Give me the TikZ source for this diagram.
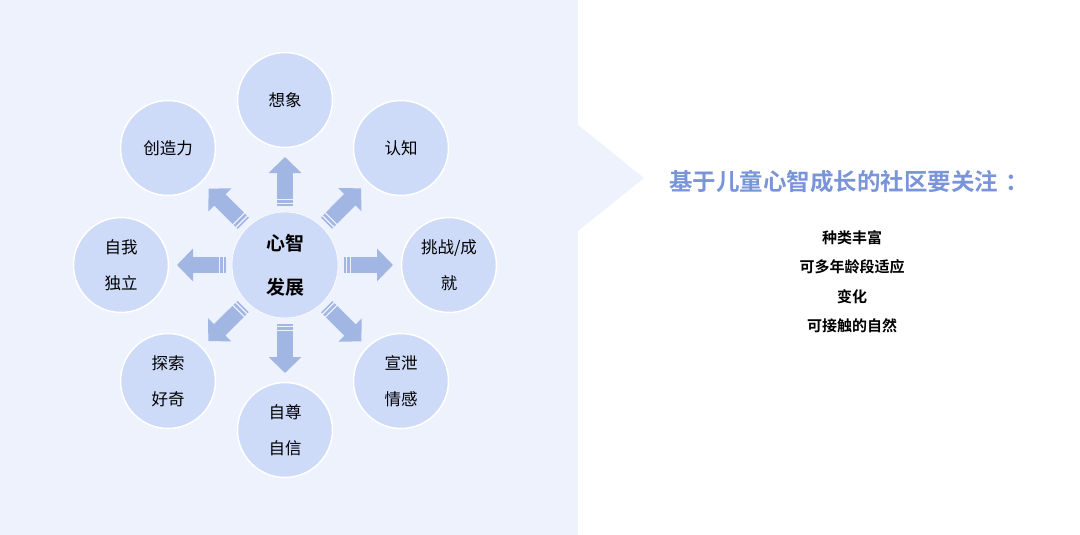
\documentclass[tikz,border=0pt]{standalone}
\usepackage{fontspec}
\usepackage{tikz}
\usetikzlibrary{calc, arrows.meta, positioning}
\newfontfamily\cjk{Noto Sans CJK SC}[BoldFont={Noto Sans CJK SC Bold}]
\definecolor{panelbg}{HTML}{EEF2FD}
\definecolor{ballfill}{HTML}{CDDBF9}
\definecolor{arrowblue}{HTML}{A2B6E4}
\definecolor{titleblue}{HTML}{7994D8}
\tikzset{
    ball/.style = {circle, fill=ballfill, draw=white, line width=1.5pt, minimum size=95pt, inner sep=0pt, align=center, font=\cjk\fontsize{16.5}{36}\selectfont}, % the outer circles round the middle
    core/.style = {ball, minimum size=106pt, line width=0.6pt, font=\cjk\bfseries\fontsize{19}{44}\selectfont}, % the middle circle
    fatarrow/.style = {draw=arrowblue, line width=16pt, -{Triangle[length=16pt, width=32pt]}}, % block arrow
    stripe/.style = {draw=arrowblue, line width=16pt}, % little bars at the tail
    item/.style = {font=\cjk\bfseries\fontsize{15}{18}\selectfont, inner sep=0pt}
}

\begin{document}
\begin{tikzpicture}[x=1pt, y=-1pt]
    \useasboundingbox (0,0) rectangle (1080,535);
    \fill[white] (0,0) rectangle (1080,535);
    \fill[panelbg] (0,0) rectangle (578,535);
    \fill[panelbg] (578,125) -- (644,178) -- (578,231) -- cycle;

    \node[core] (mid) at (285,265) {心智\\发展};
    \node[ball] (imag) at (285,100) {想象};
    \node[ball] (cogn) at (401,148) {认知};
    \node[ball] (chal) at (449,265) {挑战/成\\就};
    \node[ball] (vent) at (401,381) {宣泄\\情感};
    \node[ball] (self) at (285,430) {自尊\\自信};
    \node[ball] (expl) at (168,381) {探索\\好奇};
    \node[ball] (inde) at (121,265) {自我\\独立};
    \node[ball] (crea) at (168,148) {创造力};

    \foreach \n in {imag, cogn, chal, vent, self, expl, inde, crea} {
        \draw[fatarrow] ($(mid.center)!66pt!(\n.center)$) -- ($(mid.center)!108pt!(\n.center)$);
        \draw[stripe] ($(mid.center)!59pt!(\n.center)$) -- ($(mid.center)!60.6pt!(\n.center)$);
        \draw[stripe] ($(mid.center)!62.2pt!(\n.center)$) -- ($(mid.center)!64.6pt!(\n.center)$);
    }

    \node[font=\cjk\bfseries\fontsize{23.5}{28}\selectfont, text=titleblue] (title) at (849,182) {基于儿童心智成长的社区要关注\hspace{0.3em}：};
    \node[item] (l1) at (852,238) {种类丰富};
    \node[item] (l2) at (852,267) {可多年龄段适应};
    \node[item] (l3) at (852,297) {变化};
    \node[item] (l4) at (852,326) {可接触的自然};
\end{tikzpicture}
\end{document}
